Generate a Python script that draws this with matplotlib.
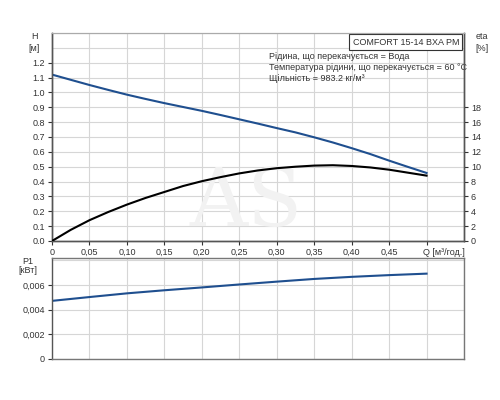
import matplotlib
matplotlib.use("Agg")
import matplotlib.pyplot as plt
import matplotlib.transforms as mtransforms

plt.rcParams['font.family'] = ['Liberation Sans', 'DejaVu Sans']

# pump curve readings (Q in m3/h)
q = [0.0, 0.025, 0.05, 0.075, 0.10, 0.125, 0.15, 0.175, 0.20, 0.225, 0.25,
     0.275, 0.30, 0.325, 0.35, 0.375, 0.40, 0.425, 0.45, 0.475, 0.50]
head = [1.12, 1.085, 1.050, 1.017, 0.985, 0.956, 0.928, 0.902, 0.876, 0.848, 0.819,
        0.790, 0.760, 0.731, 0.698, 0.663, 0.625, 0.585, 0.541, 0.499, 0.458]
eta = [0.0, 1.5, 2.8, 3.9, 4.9, 5.8, 6.6, 7.4, 8.05, 8.6, 9.1,
       9.5, 9.8, 10.0, 10.15, 10.2, 10.1, 9.9, 9.6, 9.2, 8.8]

q_p = [0.0, 0.05, 0.10, 0.15, 0.20, 0.25, 0.30, 0.35, 0.40, 0.45, 0.50]
p1 = [0.00472, 0.00503, 0.00533, 0.00558, 0.00581, 0.00605, 0.00628, 0.00650, 0.00667, 0.00681, 0.00693]

q_ticks = [0, 0.05, 0.10, 0.15, 0.20, 0.25, 0.30, 0.35, 0.40, 0.45, 0.50]
q_labels = ['0', '0,05', '0,10', '0,15', '0,20', '0,25', '0,30', '0,35', '0,40', '0,45', 'Q [м³/год.]']
h_ticks = [0.0, 0.1, 0.2, 0.3, 0.4, 0.5, 0.6, 0.7, 0.8, 0.9, 1.0, 1.1, 1.2]
eta_ticks = [0, 2, 4, 6, 8, 10, 12, 14, 16, 18]
p_ticks = [0, 0.002, 0.004, 0.006]
p_labels = ['0', '0,002', '0,004', '0,006']

blue = '#1f4f8f'
grid_c = '#d6d6d6'
txt_c = '#333333'
fs = 6.5

fig = plt.figure(figsize=(5, 4), dpi=100)
ax1 = fig.add_axes([0.104, 0.3975, 0.824, 0.52])
ax3 = fig.add_axes([0.104, 0.1025, 0.824, 0.2525])

# top chart: head + efficiency
ax1.plot(q, head, color=blue, linewidth=1.5, zorder=3)
ax1.set_xlim(0, 0.55)
ax1.set_ylim(0, 1.4)
ax1.set_xticks(q_ticks)
ax1.set_xticklabels(q_labels)
ax1.set_xticks([0.55], minor=True)
ax1.set_yticks(h_ticks)
ax1.set_yticklabels(['%.1f' % v for v in h_ticks])
ax1.set_yticks([1.3, 1.4], minor=True)
ax1.grid(True, which='both', color=grid_c, linewidth=0.8)
ax1.set_axisbelow(True)
ax1.tick_params(labelsize=fs, colors=txt_c, length=3, width=0.8, pad=2)
ax1.tick_params(which='minor', length=0)

# move the Q unit label so it starts at the 0.50 tick
qlab = ax1.get_xticklabels()[-1]
qlab.set_ha('left')
qlab.set_transform(qlab.get_transform() + mtransforms.ScaledTranslation(-4 / 100, 0, fig.dpi_scale_trans))

ax2 = ax1.twinx()
ax2.plot(q, eta, color='black', linewidth=1.5, zorder=3)
ax2.set_ylim(0, 28)
ax2.set_yticks(eta_ticks)
ax2.tick_params(labelsize=fs, colors=txt_c, length=3, width=0.8, pad=2)

for a in (ax1, ax2):
    for s in ['left', 'bottom', 'right']:
        a.spines[s].set_color('#555555')
        a.spines[s].set_linewidth(1.0)
    a.spines['top'].set_color('#aaaaaa')
    a.spines['top'].set_linewidth(0.8)

fig.text(0.068, 0.908, 'H', fontsize=fs, color=txt_c, ha='center', va='center')
fig.text(0.068, 0.879, '[м]', fontsize=fs, color=txt_c, ha='center', va='center')
fig.text(0.963, 0.908, 'eta', fontsize=fs, color=txt_c, ha='center', va='center')
fig.text(0.963, 0.879, '[%]', fontsize=fs, color=txt_c, ha='center', va='center')

ax1.text(0.988, 0.978, 'COMFORT 15-14 BXA PM', transform=ax1.transAxes, fontsize=fs,
         ha='right', va='top', color=txt_c,
         bbox=dict(boxstyle='square,pad=0.35', facecolor='white', edgecolor='#333333', linewidth=0.8))
ax1.text(0.527, 0.91, 'Рідина, що перекачується = Вода\n'
         'Температура рідини, що перекачується = 60 °C\n'
         'Щільність = 983.2 кг/м³', transform=ax1.transAxes, fontsize=fs,
         ha='left', va='top', color=txt_c, linespacing=1.3)

# faint watermark
ax1.text(0.47, 0.18, 'AS', transform=ax1.transAxes, fontsize=58, family='DejaVu Serif',
         color='#f2f2f2', ha='center', va='center', zorder=1)

# bottom chart: power input
ax3.plot(q_p, p1, color=blue, linewidth=1.5)
ax3.set_xlim(0, 0.55)
ax3.set_ylim(0, 0.0082)
ax3.set_xticks(q_ticks + [0.55])
ax3.set_xticklabels([])
ax3.set_yticks(p_ticks)
ax3.set_yticklabels(p_labels)
ax3.set_yticks([0.008], minor=True)
ax3.grid(True, which='both', color=grid_c, linewidth=0.8)
ax3.tick_params(axis='y', labelsize=fs, colors=txt_c, length=3, width=0.8, pad=2)
ax3.tick_params(axis='y', which='minor', length=0)
ax3.tick_params(axis='x', length=0)
for s in ax3.spines.values():
    s.set_color('#777777')
    s.set_linewidth(1.0)
ax3.spines['left'].set_color('#555555')

fig.text(0.056, 0.345, 'P1', fontsize=fs, color=txt_c, ha='center', va='center')
fig.text(0.056, 0.323, '[кВт]', fontsize=fs, color=txt_c, ha='center', va='center')

plt.savefig('out.png', dpi=100)
